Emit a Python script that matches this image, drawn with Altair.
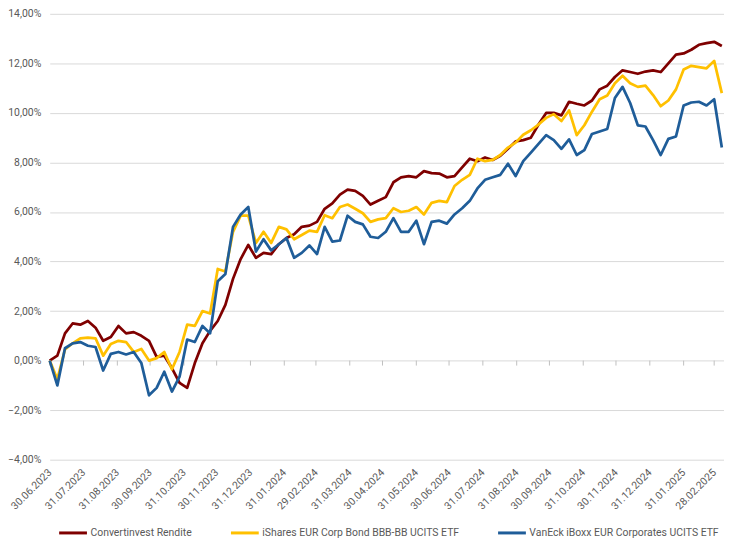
import altair as alt
import pandas as pd

# ---- data (percent values, weekly) ----
dates = pd.date_range("2023-06-30", periods=89, freq="7D")

series_names = [
    "Convertinvest Rendite",
    "iShares EUR Corp Bond BBB-BB UCITS ETF",
    "VanEck iBoxx EUR Corporates UCITS ETF",
]
colors = ["#7F0000", "#FFC000", "#1F5D99"]

red = [0.0, 0.2, 1.1, 1.5, 1.45, 1.6, 1.33, 0.8, 0.95, 1.4,
       1.1, 1.15, 1.0, 0.8, 0.15, 0.2, -0.3, -0.9, -1.1, -0.1,
       0.7, 1.2, 1.6, 2.25, 3.3, 4.1, 4.67, 4.15, 4.35, 4.3,
       4.7, 4.95, 5.1, 5.4, 5.45, 5.6, 6.13, 6.35, 6.7, 6.9,
       6.85, 6.65, 6.3, 6.45, 6.6, 7.2, 7.4, 7.45, 7.4, 7.65,
       7.57, 7.55, 7.4, 7.45, 7.8, 8.15, 8.05, 8.2, 8.1, 8.27,
       8.55, 8.85, 8.9, 9.0, 9.53, 10.0, 10.0, 9.9, 10.45, 10.37,
       10.3, 10.5, 10.95, 11.1, 11.45, 11.72, 11.65, 11.58, 11.67, 11.72,
       11.65, 12.0, 12.35, 12.4, 12.55, 12.75, 12.82, 12.87, 12.7]

yellow = [0.0, -0.75, 0.45, 0.7, 0.9, 0.93, 0.9, 0.2, 0.67, 0.8,
          0.75, 0.35, 0.47, 0.0, 0.1, 0.35, -0.35, 0.35, 1.45, 1.4,
          2.0, 1.9, 3.7, 3.6, 5.2, 5.85, 5.85, 4.75, 5.2, 4.75,
          5.4, 5.3, 4.9, 5.07, 5.25, 5.2, 5.87, 5.75, 6.2, 6.3,
          6.13, 5.95, 5.6, 5.7, 5.75, 6.15, 6.0, 6.05, 6.2, 5.9,
          6.37, 6.45, 6.4, 7.05, 7.3, 7.5, 8.15, 8.05, 8.1, 8.3,
          8.6, 8.8, 9.12, 9.3, 9.53, 9.8, 9.95, 9.67, 10.1, 9.1,
          9.5, 10.05, 10.55, 10.7, 11.2, 11.5, 11.2, 11.05, 11.1, 10.72,
          10.27, 10.5, 10.95, 11.75, 11.9, 11.85, 11.8, 12.1, 10.8]

blue = [0.0, -1.0, 0.5, 0.7, 0.75, 0.6, 0.55, -0.4, 0.27, 0.35,
        0.25, 0.35, -0.1, -1.4, -1.1, -0.45, -1.25, -0.65, 0.85, 0.75,
        1.4, 1.1, 3.2, 3.5, 5.4, 5.9, 6.2, 4.4, 4.9, 4.45,
        4.7, 4.95, 4.15, 4.35, 4.65, 4.3, 5.4, 4.8, 4.85, 5.85,
        5.6, 5.5, 5.0, 4.95, 5.2, 5.75, 5.2, 5.2, 5.65, 4.7,
        5.6, 5.65, 5.53, 5.9, 6.15, 6.45, 6.95, 7.3, 7.4, 7.5,
        7.95, 7.45, 8.05, 8.4, 8.75, 9.1, 8.9, 8.55, 8.93, 8.3,
        8.5, 9.15, 9.25, 9.35, 10.6, 11.05, 10.4, 9.5, 9.45, 8.9,
        8.3, 8.95, 9.05, 10.3, 10.42, 10.45, 10.3, 10.55, 8.6]

tick_dates = [
    "2023-06-30", "2023-07-31", "2023-08-31", "2023-09-30", "2023-10-31",
    "2023-11-30", "2023-12-31", "2024-01-31", "2024-02-29", "2024-03-31",
    "2024-04-30", "2024-05-31", "2024-06-30", "2024-07-31", "2024-08-31",
    "2024-09-30", "2024-10-31", "2024-11-30", "2024-12-31", "2025-01-31",
    "2025-02-28",
]
y_ticks = [-4, -2, 0, 2, 4, 6, 8, 10, 12, 14]

# ---- build tables ----
rows = []
for name, vals in zip(series_names, [red, yellow, blue]):
    for d, v in zip(dates, vals):
        rows.append({"date": d.strftime("%Y-%m-%d"), "series": name, "value": v})
df = pd.DataFrame(rows)
ticks_df = pd.DataFrame({"date": tick_dates})


def dt(s):
    y, m, d = (int(p) for p in s.split("-"))
    return alt.DateTime(year=y, month=m, date=d, utc=True)


FONT = "Roboto, Liberation Sans, sans-serif"
TXT = "#595959"

x_scale = alt.Scale(type="utc", domain=[dt("2023-06-30"), dt("2025-03-09")])
x_axis = alt.Axis(
    values=[dt(s) for s in tick_dates],
    labelExpr="utcFormat(datum.value, '%d.%m.%Y')",
    labelAngle=-45,
    labelAlign="right",
    labelBaseline="middle",
    labelPadding=11,
    labelFlush=False,
    labelOverlap=False,
    labelBound=False,
    ticks=False,
    tickSize=0,
    domain=False,
    grid=False,
    title=None,
    labelColor=TXT,
    labelFontSize=10.5,
    labelFont=FONT,
)

y_scale = alt.Scale(domain=[-4, 14], nice=False, zero=False)
y_axis = alt.Axis(
    values=y_ticks,
    labelExpr="replace(format(datum.value, '.2f'), '.', ',') + '%'",
    domain=False,
    ticks=False,
    grid=True,
    gridColor="#D9D9D9",
    gridWidth=1,
    labelPadding=9,
    title=None,
    labelColor=TXT,
    labelFontSize=10.5,
    labelFont=FONT,
)

tick_marks = alt.Chart(ticks_df).mark_rule(color="#BFBFBF", strokeWidth=1).encode(
    x=alt.X("date:T", scale=x_scale, axis=x_axis),
    y=alt.YDatum(0, scale=y_scale, axis=y_axis),
    y2=alt.Y2Datum(-0.2),
)

lines = alt.Chart(df).mark_line(strokeWidth=2.75, strokeJoin="round").encode(
    x=alt.X("date:T", scale=x_scale, axis=x_axis),
    y=alt.Y("value:Q", scale=y_scale, axis=y_axis),
    color=alt.Color(
        "series:N",
        scale=alt.Scale(domain=series_names, range=colors),
        legend=alt.Legend(
            title=None,
            orient="none",
            direction="horizontal",
            legendX=8,
            legendY=507,
            symbolType="stroke",
            symbolSize=784,
            symbolStrokeWidth=3,
            labelFont=FONT,
            labelFontSize=10.5,
            labelColor=TXT,
            labelOffset=2,
            labelLimit=400,
            columnPadding=32,
        ),
    ),
)

chart = (
    alt.layer(tick_marks, lines)
    .properties(
        width=679,
        height=449,
        autosize=alt.AutoSizeParams(type="none"),
        padding={"left": 42, "top": 4, "right": 0, "bottom": 79},
        background="white",
    )
    .configure_view(stroke=None)
)

chart.save("out.html", embed_options={"renderer": "svg", "actions": False})
